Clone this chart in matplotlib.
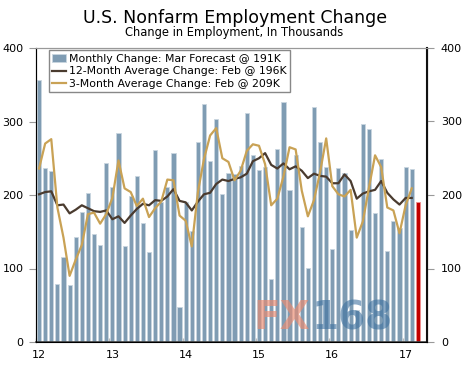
"""U.S. nonfarm employment change: monthly bars with 12M and 3M averages."""

import matplotlib
matplotlib.use("Agg")
import matplotlib.pyplot as plt
import numpy as np

# Monthly change, Jan 2012 .. Feb 2017 (thousands)
MONTHLY = [
    357, 237, 233, 79, 115, 77, 143, 177, 203, 147, 132, 244,   # 2012
    211, 285, 130, 198, 226, 162, 122, 261, 191, 211, 257, 48,  # 2013
    190, 151, 272, 324, 246, 303, 202, 230, 228, 240, 311, 255,  # 2014
    234, 238, 86, 262, 326, 207, 254, 157, 101, 320, 272, 238,   # 2015
    127, 237, 230, 153, 44, 296, 290, 176, 249, 124, 165, 155,   # 2016
    238, 235,                                                    # 2017
]
FORECAST = 191  # Mar 2017

AVG_12M = [
    201, 204, 205, 186, 187, 175, 180, 186, 182, 178, 177, 179,
    167, 171, 162, 172, 181, 188, 186, 193, 192, 198, 208, 192,
    190, 179, 191, 201, 203, 215, 221, 219, 222, 224, 229, 246,
    250, 257, 241, 236, 243, 235, 239, 233, 223, 229, 226, 225,
    216, 216, 228, 219, 195, 202, 205, 207, 219, 203, 194, 187,
    196, 196,
]

AVG_3M = [
    236, 270, 276, 183, 142, 90, 112, 132, 174, 176, 161, 174,
    196, 247, 209, 204, 185, 195, 170, 182, 191, 221, 220, 172,
    165, 130, 204, 249, 281, 291, 250, 245, 220, 233, 260, 269,
    267, 242, 186, 195, 225, 265, 262, 206, 171, 193, 231, 277,
    212, 201, 198, 207, 142, 164, 210, 254, 238, 183, 179, 148,
    186, 209,
]

YEAR_LABELS = ["12", "13", "14", "15", "16", "17"]
Y_TICKS = [0, 100, 200, 300, 400]

BAR_COLOR = "#7f9cb3"
BAR_EDGE = "#c9d6e0"
RED = "#c20000"
AVG12_COLOR = "#4a3b2f"
AVG3_COLOR = "#c9a255"


def main():
    fig = plt.figure(figsize=(4.68, 3.70), dpi=100)
    ax = fig.add_axes([36 / 468, 1 - 342 / 370, 391 / 468, 294 / 370])
    rax = ax.twinx()

    x = np.arange(len(MONTHLY))
    bars = ax.bar(x, MONTHLY, 0.68, color=BAR_COLOR, edgecolor=BAR_EDGE,
                  linewidth=0.6, zorder=1)
    ax.bar([len(MONTHLY)], [FORECAST], 0.68, color=RED, edgecolor="#f09090",
           linewidth=0.6, zorder=1)
    l12, = ax.plot(x, AVG_12M, color=AVG12_COLOR, linewidth=1.6, zorder=3)
    l3, = ax.plot(x, AVG_3M, color=AVG3_COLOR, linewidth=1.6, zorder=4)

    for a in (ax, rax):
        a.set_xlim(-0.5, 63.5)
        a.set_ylim(0, 400)
        a.set_yticks(Y_TICKS)
        a.tick_params(axis="y", labelsize=8, length=5, width=0.8,
                      color="#999999", pad=4, direction="out")
    rax.tick_params(axis="y", pad=5)

    # year labels sit on the January bars, ticks on the year boundaries
    ax.set_xticks(np.arange(0, 72, 12))
    ax.set_xticklabels(YEAR_LABELS, fontsize=8)
    ax.tick_params(axis="x", length=0, pad=6)
    ax.set_xticks(np.arange(-0.5, 63, 12), minor=True)
    ax.tick_params(axis="x", which="minor", length=3, direction="in",
                   color="#bbbbbb", width=1)

    ax.spines["top"].set_color("#999999")
    ax.spines["left"].set_color("#555555")
    ax.spines["bottom"].set_color("#444444")
    ax.spines["bottom"].set_linewidth(1.2)
    rax.spines["right"].set_color("#111111")
    rax.spines["right"].set_linewidth(1.5)
    rax.spines["top"].set_color("#999999")

    ax.legend([bars, l12, l3],
              ["Monthly Change: Mar Forecast @ 191K",
               "12-Month Average Change: Feb @ 196K",
               "3-Month Average Change: Feb @ 209K"],
              loc="upper left", bbox_to_anchor=(0.033, 0.992),
              fontsize=7.8, frameon=True, fancybox=False, framealpha=1,
              edgecolor="#888888", borderpad=0.3, labelspacing=0.25,
              handlelength=1.3, handletextpad=0.3, borderaxespad=0.0)

    fig.text(0.503, 0.952, "U.S. Nonfarm Employment Change",
             ha="center", va="center", fontsize=12.5)
    fig.text(0.501, 0.911, "Change in Employment, In Thousands",
             ha="center", va="center", fontsize=8.3)

    # watermark
    fig.text(310 / 468, 1 - 318 / 370, "FX", ha="right", va="center",
             fontsize=28, fontweight="bold", color="#ec8a6e", alpha=0.65,
             zorder=10)
    fig.text(312 / 468, 1 - 318 / 370, "168", ha="left", va="center",
             fontsize=28, fontweight="bold", color="#3f72a0", alpha=0.6,
             zorder=10)

    fig.savefig("out.png", dpi=100)
    plt.close(fig)


if __name__ == "__main__":
    main()
